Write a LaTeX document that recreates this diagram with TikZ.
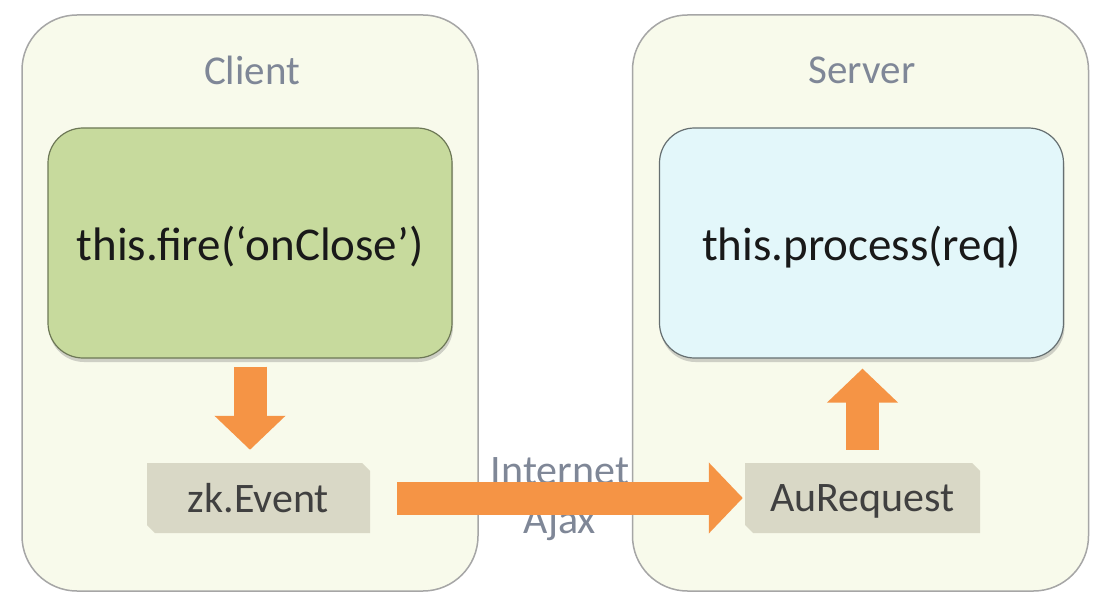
\documentclass[tikz,border=0pt]{standalone}
\usepackage{fontspec}
\setmainfont{Carlito}
\usetikzlibrary{arrows.meta,shadows}
\definecolor{myorange}{HTML}{F59445}
\definecolor{mygreen}{HTML}{C7DA9D}
\definecolor{myblue}{HTML}{E3F7FA}
\definecolor{mycream}{HTML}{F8FAEB}
\definecolor{mytag}{HTML}{D9D8C6}
\definecolor{mygray}{HTML}{7F8797}

\begin{document}
\begin{tikzpicture}[x=1pt,y=-1pt]
\tikzset{PanelStyle/.style ={rectangle, rounded corners=55pt, fill=mycream,
  draw=black!35, line width=1.5pt, minimum width=456pt, minimum height=576pt}}
\tikzset{TitleStyle/.style ={text=mygray, font=\fontsize{41}{49}\selectfont}}
\tikzset{CallStyle/.style ={rectangle, rounded corners=35pt, line width=1.2pt,
  minimum width=404pt, minimum height=230pt, text=black!90, text depth=0pt,
  font=\fontsize{47}{56}\selectfont,
  drop shadow={opacity=0.35, shadow xshift=1pt, shadow yshift=-4pt}}}
% tag with the top right and bottom left corners cut off
\tikzset{TagStyle/.style ={rectangle, fill=mycream, minimum height=70pt, inner sep=0pt,
  text=black!75, text depth=0pt, font=\fontsize{42}{50}\selectfont,
  path picture={\fill[mytag] (path picture bounding box.north west)
    -- ([xshift=-8pt]path picture bounding box.north east)
    -- ([yshift=-8pt]path picture bounding box.north east)
    -- (path picture bounding box.south east)
    -- ([xshift=8pt]path picture bounding box.south west)
    -- ([yshift=8pt]path picture bounding box.south west) -- cycle;}}}
\tikzset{BigArrow/.style ={draw=myorange, line width=33pt, -{Triangle[width=69pt,length=34pt]}}}
\useasboundingbox[fill=white] (0,0) rectangle (1093,599);
% client and server panels
\node[PanelStyle] (clientpanel) at (250,303) {};
\node[PanelStyle] (serverpanel) at (860.5,303) {};
\node[TitleStyle] (client) at (252,70) {Client};
\node[TitleStyle] (server) at (862,70) {Server};
% the two calls
\node[CallStyle, fill=mygreen, draw=mygreen!55!black] (fire) at (250,243) {this.fire(‘onClose’)};
\node[CallStyle, fill=myblue, draw=myblue!45!black] (process) at (861.5,243) {this.process(req)};
% what goes over the wire
\node[TagStyle, minimum width=223pt] (event) at (258.5,498) {zk.Event};
\node[TagStyle, minimum width=235pt] (request) at (862.5,498) {AuRequest};
\node[TitleStyle, align=center, font=\fontsize{42}{49}\selectfont] (net) at (560,499) {Internet\\Ajax};
% arrows
\draw[BigArrow, shorten <=8pt, shorten >=13pt] (fire.south) -- (fire.south |- event.north);
\draw[BigArrow, shorten <=27pt, shorten >=2pt] (event.east) -- (request.west);
\draw[BigArrow, shorten <=13pt, shorten >=10pt] (request.north) -- (request.north |- process.south);
\end{tikzpicture}
\end{document}
